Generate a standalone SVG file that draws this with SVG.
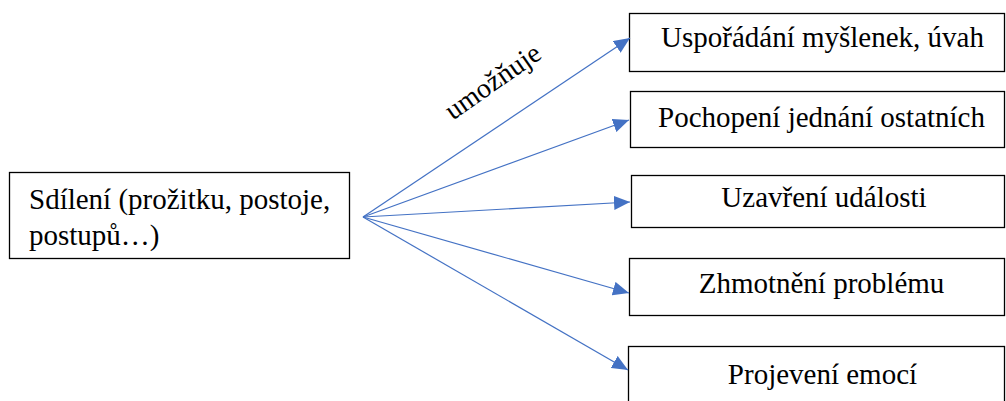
<svg xmlns="http://www.w3.org/2000/svg" width="1006" height="401" viewBox="0 0 1006 401">
  <defs>
    <marker id="arrow" markerUnits="userSpaceOnUse" markerWidth="16" markerHeight="14" refX="16" refY="7" orient="auto">
      <path d="M0,0 L16,7 L0,14 Z" fill="#4472C4"/>
    </marker>
  </defs>

  <rect width="1006" height="401" fill="#ffffff"/>

  <g font-family="'Liberation Serif', 'DejaVu Serif', serif" font-size="29" fill="#000000">
    <g id="source">
      <rect x="9.5" y="172.5" width="340" height="86" fill="#ffffff" stroke="#000000" stroke-width="1.3"/>
      <text x="29" y="209">Sdílení (prožitku, postoje,</text>
      <text x="29" y="245">postupů…)</text>
    </g>

    <g id="target-1">
      <rect x="629.5" y="13.5" width="375" height="58" fill="#ffffff" stroke="#000000" stroke-width="1.3"/>
      <text x="822.5" y="47" text-anchor="middle">Uspořádání myšlenek, úvah</text>
    </g>
    <g id="target-2">
      <rect x="630.5" y="91.5" width="374" height="56" fill="#ffffff" stroke="#000000" stroke-width="1.3"/>
      <text x="821.5" y="127" text-anchor="middle">Pochopení jednání ostatních</text>
    </g>
    <g id="target-3">
      <rect x="631.5" y="175.5" width="373" height="52" fill="#ffffff" stroke="#000000" stroke-width="1.3"/>
      <text x="824" y="207" text-anchor="middle">Uzavření události</text>
    </g>
    <g id="target-4">
      <rect x="629.5" y="258.5" width="375" height="57" fill="#ffffff" stroke="#000000" stroke-width="1.3"/>
      <text x="821.5" y="293" text-anchor="middle">Zhmotnění problému</text>
    </g>
    <g id="target-5">
      <rect x="628.5" y="346.5" width="376" height="60" fill="#ffffff" stroke="#000000" stroke-width="1.3"/>
      <text x="822.5" y="384" text-anchor="middle">Projevení emocí</text>
    </g>

    <g id="connectors" stroke="#4472C4" stroke-width="1.2" marker-end="url(#arrow)">
      <line x1="363" y1="217" x2="630" y2="38"/>
      <line x1="363" y1="217" x2="629" y2="120"/>
      <line x1="363" y1="217" x2="630" y2="202"/>
      <line x1="363" y1="217" x2="629" y2="293"/>
      <line x1="363" y1="217" x2="628" y2="370"/>
    </g>
    <text transform="translate(498,89) rotate(-35)" text-anchor="middle" font-size="28">umožňuje</text>
  </g>
</svg>
